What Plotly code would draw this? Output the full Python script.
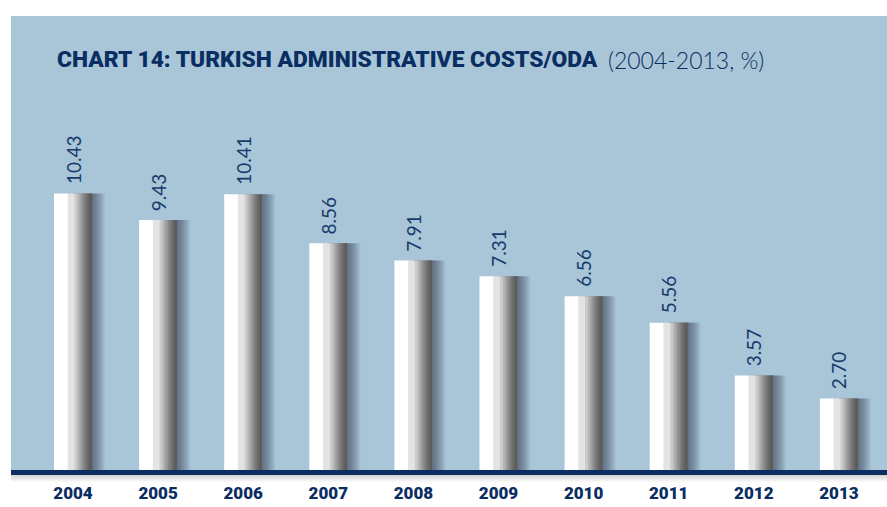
import plotly.graph_objects as go
import numpy as np

years = ["2004", "2005", "2006", "2007", "2008", "2009", "2010", "2011", "2012", "2013"]
values = [10.43, 9.43, 10.41, 8.56, 7.91, 7.31, 6.56, 5.56, 3.57, 2.70]
labels = ["10.43", "9.43", "10.41", "8.56", "7.91", "7.31", "6.56", "5.56", "3.57", "2.70"]

W, H = 887, 507
L, R, T, B = 11, 0, 16, 37
plot_w = W - L - R
plot_h = H - T - B
px_per_cat = 85.1
x0_range = -(73 - L) / px_per_cat
x1_range = x0_range + plot_w / px_per_cat
bar_px = 38
bw = bar_px / px_per_cat
px = 1 / px_per_cat

BG = "#a8c6d8"
NAVY = "#0b2e62"
LABEL = "#173a6c"

fig = go.Figure()

# shadow to the right of bars (layered, fading)
for k in range(1, 14):
    fig.add_trace(go.Bar(
        x=years, y=values, offset=0, width=bw / 2 + k * px,
        marker=dict(color="rgba(30,40,55,0.05)", line=dict(width=0)),
        hoverinfo="skip", showlegend=False))

# base white bar
fig.add_trace(go.Bar(
    x=years, y=values, offset=-bw / 2, width=bw,
    marker=dict(color="#ffffff", line=dict(width=0)),
    hoverinfo="skip", showlegend=False))

# gray gradient toward the right side of each bar
K = 12
for k in range(K):
    f = 0.36 + 0.62 * np.sqrt(k / K)
    start = -bw / 2 + f * bw
    fig.add_trace(go.Bar(
        x=years, y=values, offset=start, width=bw / 2 - start,
        marker=dict(color="rgba(70,70,70,0.15)", line=dict(width=0)),
        hoverinfo="skip", showlegend=False))

for i, (v, lab) in enumerate(zip(values, labels)):
    fig.add_annotation(x=i, y=v, text=lab, textangle=-90, showarrow=False,
                       xanchor="center", yanchor="bottom", yshift=7,
                       font=dict(family="Lato", size=19, color=LABEL, weight=400))

fig.add_annotation(xref="paper", yref="paper", x=(55 - L) / plot_w, y=(H - B - 60) / plot_h,
                   xanchor="left", yanchor="middle", showarrow=False,
                   text="CHART 14: TURKISH ADMINISTRATIVE COSTS/ODA",
                   font=dict(family="Roboto", size=22.8, color=NAVY, weight=900))
fig.add_annotation(xref="paper", yref="paper", x=(606 - L) / plot_w, y=(H - B - 60) / plot_h,
                   xanchor="left", yanchor="middle", showarrow=False,
                   text="(2004-2013, %)",
                   font=dict(family="Lato", size=23, color=NAVY, weight=300))

# soft shadow under the axis line
shapes = []
for k in range(1, 8):
    shapes.append(dict(type="rect", xref="paper", yref="paper",
                       x0=0, x1=1, y0=-5 / plot_h, y1=-(5 + k) / plot_h,
                       fillcolor="rgba(0,0,0,0.025)", line=dict(width=0), layer="above"))

fig.update_layout(
    width=W, height=H,
    margin=dict(l=L, r=R, t=T, b=B),
    paper_bgcolor="white", plot_bgcolor=BG,
    barmode="overlay",
    shapes=shapes,
    xaxis=dict(type="category", range=[x0_range, x1_range], showgrid=False, zeroline=False,
               showline=True, linewidth=5, linecolor=NAVY, ticks="",
               tickfont=dict(family="Roboto", size=17, color=NAVY, weight=900),
               ticklabelstandoff=4, automargin=False,
               fixedrange=True),
    yaxis=dict(range=[0, plot_h / 26.5], showgrid=False, zeroline=False, showticklabels=False,
               showline=False, fixedrange=True, automargin=False),
    showlegend=False,
)

fig.write_html("out.html", config={"displayModeBar": False},
               post_script="document.body.style.margin='0';document.body.style.overflow='hidden';")
